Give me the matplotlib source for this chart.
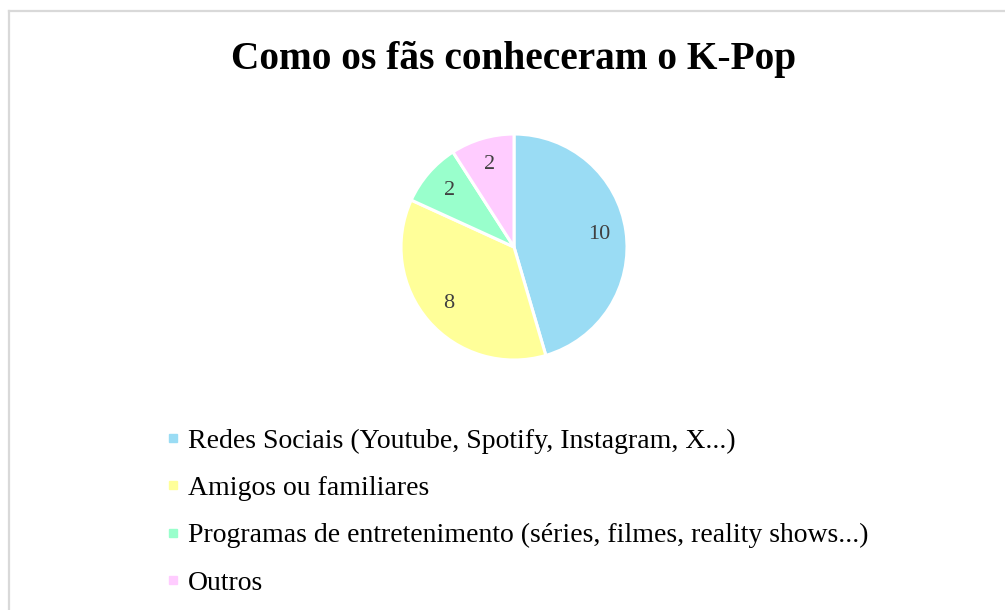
import matplotlib
matplotlib.use('Agg')
import matplotlib.pyplot as plt
from matplotlib.lines import Line2D

# ── 데이터 ──
categories = [
    'Redes Sociais (Youtube, Spotify, Instagram, X...)',
    'Amigos ou familiares',
    'Programas de entretenimento (séries, filmes, reality shows...)',
    'Outros',
]
counts = [10, 8, 2, 2]
colors = ['#9adcf4', '#ffff99', '#99ffcc', '#ffccff']
title = 'Como os fãs conheceram o K-Pop'

plt.rcParams['font.family'] = ['Liberation Serif', 'DejaVu Serif']

fig = plt.figure(figsize=(10.05, 6.1), dpi=100)

# 테두리 (위, 왼쪽만 보임)
fig.add_artist(Line2D([0.009, 0.009], [0.0, 0.982], transform=fig.transFigure,
                      color='#d9d9d9', linewidth=1.6))
fig.add_artist(Line2D([0.009, 1.0], [0.982, 0.982], transform=fig.transFigure,
                      color='#d9d9d9', linewidth=1.6))

fig.text(0.5114, 0.902, title, ha='center', va='center',
         fontsize=28.4, fontweight='bold', color='black')

ax = fig.add_axes([0.3709, 0.3635, 0.2811, 0.4631])
counts_total = sum(counts)
wedges, texts, autotexts = ax.pie(
    counts, colors=colors, startangle=90, counterclock=False,
    autopct=lambda p: f'{round(p * counts_total / 100):d}',
    pctdistance=0.76,
    wedgeprops=dict(edgecolor='white', linewidth=2.2),
    textprops=dict(fontsize=16, color='#404040'),
)
ax.set_xlim(-1.25, 1.25)
ax.set_ylim(-1.25, 1.25)
ax.set_aspect('equal')
ax.axis('off')

handles = [Line2D([], [], linestyle='none', marker='s', markersize=6,
                  markerfacecolor=c, markeredgecolor=c) for c in colors]
fig.legend(handles, categories, loc='upper left', bbox_to_anchor=(0.165, 0.298),
           frameon=False, fontsize=20, labelspacing=0.79, handlelength=0.5,
           handletextpad=0.3, borderpad=0, borderaxespad=0)

fig.savefig('out.png', dpi=100)
